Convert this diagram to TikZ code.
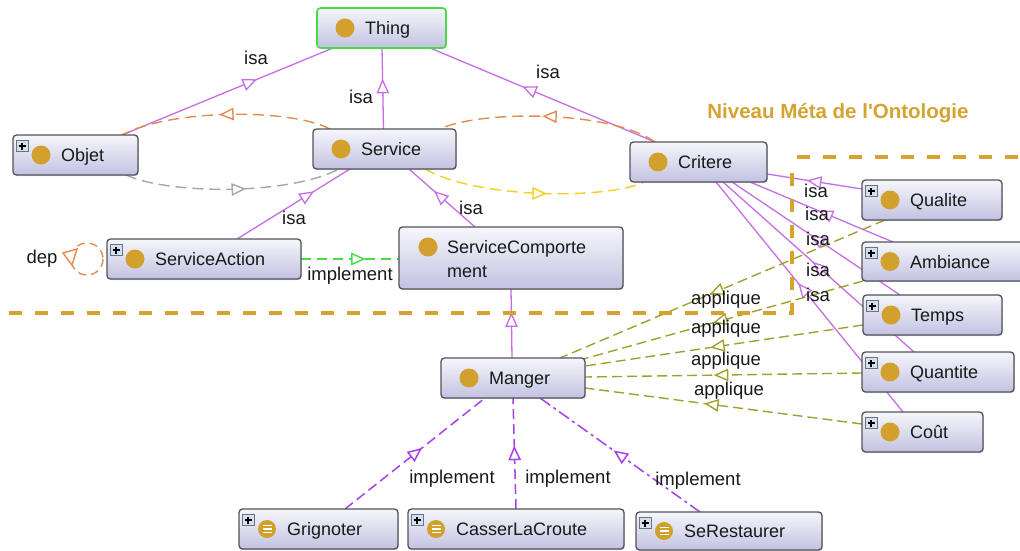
\documentclass[tikz,border=0pt]{standalone}
\usepackage{fontspec}
\setmainfont{Liberation Sans}
\newfontfamily\ttlfamily{Liberation Sans}
\usetikzlibrary{arrows.meta,decorations.markings,shadows,calc}
\pgfdeclarelayer{edges}
\pgfsetlayers{edges,main}
\definecolor{gold}{RGB}{210,160,44}
\definecolor{goldline}{RGB}{212,163,48}
\definecolor{isac}{RGB}{200,110,228}
\definecolor{implc}{RGB}{168,64,232}
\definecolor{greenc}{RGB}{70,220,70}
\definecolor{oliv}{RGB}{160,160,48}
\definecolor{orng}{RGB}{226,140,82}
\definecolor{grayc}{RGB}{165,165,165}
\definecolor{yell}{RGB}{246,206,30}
\definecolor{nborder}{RGB}{82,82,90}
\definecolor{ntop}{RGB}{246,246,251}
\definecolor{nbot}{RGB}{194,194,226}
\definecolor{txtc}{RGB}{25,25,25}
\definecolor{plusf}{RGB}{214,224,236}
\definecolor{plusb}{RGB}{100,115,135}
\newcommand\nodefnt{\fontsize{18}{21}\selectfont}
\newcommand\lblfnt{\fontsize{18.5}{21}\selectfont}
\newcommand\ttlfnt{\ttlfamily\bfseries\fontsize{20.5}{24}\selectfont}
\newcommand\mknode[8]{%
 \node[clsbox,#1,minimum width=#6pt,minimum height=#7pt,anchor=north west] (#3) at (#4,#5) {};
 \node[#2] (#3-ic) at ($(#3.west)+(28,0)$) {};
 \node[clstext] (#3-t) at ($(#3.west)+(48,6.5)$) {#8};}
\newcommand\mkplus[1]{\node[plusbox] (#1-p) at ($(#1.north west)+(9,11)$) {};}
\begin{document}
\begin{tikzpicture}[x=1pt,y=-1pt,
  clsbox/.style={draw=nborder, line width=1.3pt, rounded corners=3.5pt, top color=ntop, bottom color=nbot, inner sep=0pt, outer sep=0pt,
    drop shadow={shadow xshift=0.8pt, shadow yshift=-1.2pt, opacity=0.3}},
  golddot/.style={circle, fill=gold, minimum size=19pt, inner sep=0pt},
  inddot/.style={circle, fill=gold, minimum size=18pt, inner sep=0pt,
    path picture={\draw[white, line width=1.4pt]
      ($(path picture bounding box.center)+(-4.5pt,-3.3pt)$) -- ($(path picture bounding box.center)+(4.5pt,-3.3pt)$)
      ($(path picture bounding box.center)+(-4.5pt,0pt)$) -- ($(path picture bounding box.center)+(4.5pt,0pt)$)
      ($(path picture bounding box.center)+(-4.5pt,3.3pt)$) -- ($(path picture bounding box.center)+(4.5pt,3.3pt)$);}},
  clstext/.style={anchor=base west, inner sep=0pt, font=\nodefnt, text=txtc},
  plusbox/.style={draw=plusb, fill=plusf, line width=0.7pt, minimum width=12pt, minimum height=11pt, inner sep=0pt,
    path picture={\draw[black, line width=1.2pt]
      ($(path picture bounding box.center)+(-3.5pt,0pt)$) -- ($(path picture bounding box.center)+(3.5pt,0pt)$)
      ($(path picture bounding box.center)+(0pt,-3.5pt)$) -- ($(path picture bounding box.center)+(0pt,3.5pt)$);}},
  lbl/.style={font=\lblfnt, text=txtc, inner sep=0pt},
  ma/.style={postaction={decorate, decoration={markings, mark=at position #1 with {\pgfsetdash{}{0pt}\arrow{Triangle[fill=white,length=14.5pt,width=12.5pt]}}}}},
  isa/.style={color=isac, line width=1.3pt},
  impl/.style={color=implc, line width=1.5pt, dash pattern=on 10pt off 5pt},
  impldd/.style={color=implc, line width=1.5pt, dash pattern=on 12pt off 4pt on 3pt off 4pt},
  appl/.style={color=oliv, line width=1.4pt, dash pattern=on 10pt off 5pt},
  orng edge/.style={color=orng, line width=1.4pt, dash pattern=on 11pt off 6pt},
  gray edge/.style={color=grayc, line width=1.4pt, dash pattern=on 11pt off 6pt},
  yell edge/.style={color=yell, line width=1.4pt, dash pattern=on 11pt off 6pt},
  green edge/.style={color=greenc, line width=1.4pt, dash pattern=on 10pt off 6pt},
  golddash/.style={draw=goldline, line width=4pt, dash pattern=on 13pt off 13pt}
]
\useasboundingbox (0,0) rectangle (1020,551);
\begin{pgfonlayer}{edges}
\fill[white] (0,0) rectangle (1020,551);
\end{pgfonlayer}

% nodes
\mknode{draw=greenc,line width=1.6pt}{golddot}{thing}{317}{8}{129}{40}{Thing}
\mknode{}{golddot}{objet}{13}{135}{125}{40}{Objet}
\mkplus{objet}
\mknode{}{golddot}{service}{313}{129}{143}{40}{Service}
\mknode{}{golddot}{critere}{630}{142}{137}{40}{Critere}
\mknode{}{golddot}{saction}{107}{239}{194}{40}{ServiceAction}
\mkplus{saction}
\node[clsbox, minimum width=224pt, minimum height=62pt, anchor=north west] (scomp) at (399,227) {};
\node[golddot] (scomp-ic) at ($(scomp.north west)+(29,20)$) {};
\node[clstext] (scomp-t) at ($(scomp.north west)+(48,26.5)$) {ServiceComporte};
\node[clstext] (scomp-t2) at ($(scomp.north west)+(48,50)$) {ment};
\mknode{}{golddot}{qualite}{862}{180}{140}{40}{Qualite}
\mkplus{qualite}
\mknode{}{golddot}{ambiance}{862}{242}{166}{39}{Ambiance}
\mkplus{ambiance}
\mknode{}{golddot}{temps}{863}{295}{139}{40}{Temps}
\mkplus{temps}
\mknode{}{golddot}{quantite}{862}{352}{152}{40}{Quantite}
\mkplus{quantite}
\mknode{}{golddot}{cout}{862}{412}{121}{40}{Coût}
\mkplus{cout}
\mknode{}{golddot}{manger}{441}{358}{144}{40}{Manger}
\mknode{}{inddot}{grig}{239}{509}{159}{40}{Grignoter}
\mkplus{grig}
\mknode{}{inddot}{casser}{408}{509}{216}{40}{CasserLaCroute}
\mkplus{casser}
\mknode{}{inddot}{serest}{636}{512}{186}{38}{SeRestaurer}
\mkplus{serest}

\begin{pgfonlayer}{edges}
% isa
\draw[isa, ma=0.64] ($(objet.north west)+(109,0)$) -- ($(thing.south west)+(16,0)$);
\draw[isa, ma=0.62] ($(service.north)+(-1,0)$) -- ($(thing.south)+(0.5,0)$);
\draw[isa, ma=0.59] ($(critere.north west)+(25,0)$) -- ($(thing.south east)+(-16,0)$);
\draw[isa, ma=0.68] ($(saction.north west)+(130,0)$) -- ($(service.south west)+(37,0)$);
\draw[isa, ma=0.62] ($(scomp.north west)+(76,0)$) -- ($(service.south west)+(96,0)$);
\draw[isa, ma=0.66] ($(manger.north west)+(71,0)$) -- ($(scomp.south west)+(112,0)$);
\draw[isa, ma=0.58] ($(qualite.north west)+(0,9)$) -- ($(critere.east)+(0,12)$);
\draw[isa, ma=0.52] ($(ambiance.north west)+(31,0)$) -- ($(critere.south west)+(120,0)$);
\draw[isa, ma=0.53] ($(temps.north west)+(37,0)$) -- ($(critere.south west)+(102,0)$);
\draw[isa, ma=0.53] ($(quantite.north west)+(52,0)$) -- ($(critere.south west)+(93,0)$);
\draw[isa, ma=0.56] ($(cout.north west)+(41,0)$) -- ($(critere.south west)+(86,0)$);
% applique
\draw[appl, ma=0.54] ($(qualite.south west)+(23,0)$) -- ($(manger.north west)+(119,0)$);
\draw[appl, ma=0.53] ($(ambiance.south west)+(1,0)$) -- ($(manger.north east)+(-5,2)$);
\draw[appl, ma=0.55] ($(temps.west)+(0,10)$) -- ($(manger.east)+(0,-12)$);
\draw[appl, ma=0.535] ($(quantite.west)+(0,1)$) -- ($(manger.east)+(0,-1)$);
\draw[appl, ma=0.57] ($(cout.west)+(0,-8)$) -- ($(manger.east)+(0,10)$);
% implement (individuals)
\draw[impl, ma=0.55] ($(grig.north west)+(106,0)$) -- ($(manger.south west)+(44,0)$);
\draw[impl, ma=0.57] ($(casser.north west)+(108,0)$) -- ($(manger.south west)+(72,0)$);
\draw[impldd, ma=0.54] ($(serest.north west)+(64,0)$) -- ($(manger.south west)+(99,0)$);
% implement green
\draw[green edge, ma=0.66] (saction.east) -- ($(scomp.west)+(0,1)$);
% curved relations
\draw[orng edge, ma=0.53] ($(service.north west)+(17,0)$) .. controls +(-40,-21) and +(48,-26) .. ($(objet.north east)+(-16,0)$);
\draw[orng edge, ma=0.53] ($(critere.north west)+(25,0)$) .. controls +(-45,-32) and +(40,-19) .. ($(service.north east)+(-16,0)$);
\draw[gray edge, ma=0.56] ($(objet.south east)+(-12,0)$) .. controls +(44,20) and +(-49,26) .. ($(service.south west)+(26,0)$);
\draw[yell edge, ma=0.56] ($(service.south west)+(112,0)$) .. controls +(55,31) and +(-34,17) .. ($(critere.south west)+(14,0)$);
% dep loop
\coordinate (depc) at ($(saction.west)+(-20,0)$);
\draw[color=orng, line width=1.4pt, dash pattern=on 8pt off 5pt] (depc) circle[radius=16];
\draw[color=orng, line width=1.4pt, fill=white, line join=miter]
  ($(depc)+(-24,-6)$) -- ($(depc)+(-10,-10)$) -- ($(depc)+(-15,6)$) -- cycle;
\end{pgfonlayer}

% meta-level frame
\draw[golddash] (9,313) -- (792,313) -- (792,172);
\draw[golddash] (797,157) -- (1020,157);
\node[font=\ttlfnt, text=goldline, inner sep=0pt] (title) at (838,113) {Niveau Méta de l'Ontologie};

% labels
\node[lbl] (l1) at (256,58) {isa};
\node[lbl] (l2) at (361,97) {isa};
\node[lbl] (l3) at (548,72) {isa};
\node[lbl] (l4) at (294,218) {isa};
\node[lbl] (l5) at (471,208) {isa};
\node[lbl] (l6) at (350,276) {implement};
\node[lbl] (l7) at (42,259) {dep};
\node[lbl] (l8) at (816,191) {isa};
\node[lbl] (l9) at (817,214) {isa};
\node[lbl] (l10) at (818,239) {isa};
\node[lbl] (l11) at (818,270) {isa};
\node[lbl] (l12) at (818,295) {isa};
\node[lbl] (l13) at (726,300) {applique};
\node[lbl] (l14) at (726,329) {applique};
\node[lbl] (l15) at (726,361) {applique};
\node[lbl] (l16) at (729,391) {applique};
\node[lbl] (l17) at (452,479) {implement};
\node[lbl] (l18) at (568,479) {implement};
\node[lbl] (l19) at (698,481) {implement};
\end{tikzpicture}
\end{document}
